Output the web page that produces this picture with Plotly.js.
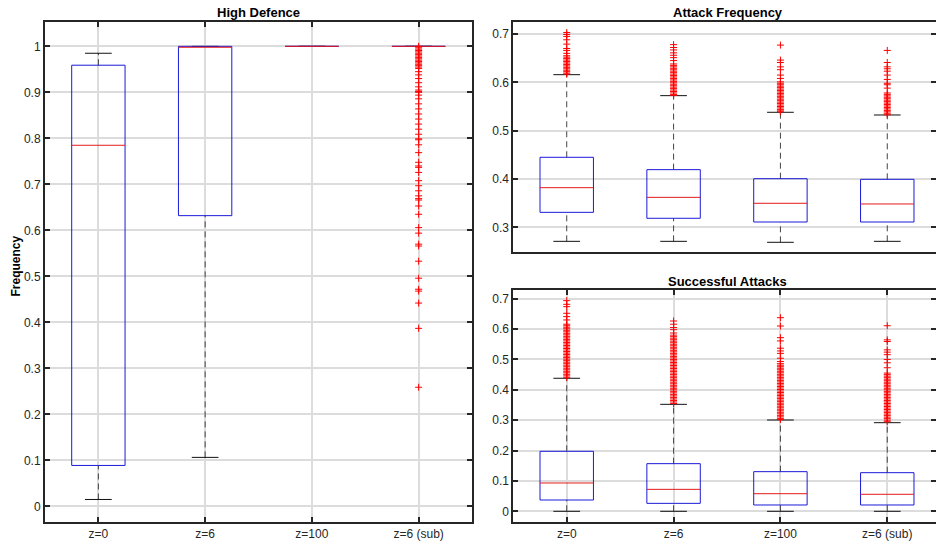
<!DOCTYPE html>
<html>
<head>
<meta charset="utf-8">
<script src="https://cdn.plot.ly/plotly-3.0.1.min.js"></script>
<style>html,body{margin:0;padding:0;background:#fff;}#chart{width:936px;height:544px;}</style>
</head>
<body>
<div id="chart"></div>
<script>
// ---------- DATA ----------
const categories = ['z=0', 'z=6', 'z=100', 'z=6 (sub)'];

// High Defence
const hdQ1     = [0.089, 0.632, 1.0, 1.0];
const hdMedian = [0.785, 0.998, 1.0, 1.0];
const hdQ3     = [0.959, 1.0, 1.0, 1.0];
const hdLow    = [0.015, 0.1065, 1.0, 1.0];
const hdHigh   = [0.985, 1.0, 1.0, 1.0];
const hdOut0 = [];
const hdOut1 = [];
const hdOut2 = [];
const hdOut3 = [1.0, 0.997, 0.994, 0.991, 0.988, 0.985, 0.982, 0.979, 0.976, 0.973, 0.970, 0.967, 0.964,
  0.961, 0.958, 0.955, 0.952, 0.945, 0.938, 0.930, 0.921, 0.912, 0.905, 0.902, 0.900, 0.894, 0.886,
  0.875, 0.864, 0.853, 0.842, 0.831, 0.820, 0.809, 0.799, 0.797, 0.786, 0.769, 0.748, 0.740, 0.737,
  0.726, 0.708, 0.697, 0.686, 0.675, 0.669, 0.666, 0.653, 0.635, 0.606, 0.594, 0.570, 0.566, 0.533,
  0.496, 0.472, 0.468, 0.442, 0.387, 0.259];

// Attack Frequency
const afQ1     = [0.331, 0.3187, 0.311, 0.311];
const afMedian = [0.382, 0.362, 0.3497, 0.3483];
const afQ3     = [0.4449, 0.4193, 0.4006, 0.3993];
const afLow    = [0.271, 0.271, 0.269, 0.271];
const afHigh   = [0.6158, 0.5724, 0.538, 0.5324];
const afOut0 = [0.703, 0.699, 0.695, 0.688, 0.679, 0.670, 0.666, 0.660, 0.655, 0.652, 0.649, 0.646,
  0.643, 0.640, 0.637, 0.634, 0.631, 0.628, 0.625, 0.622, 0.619, 0.617];
const afOut1 = [0.678, 0.672, 0.667, 0.661, 0.656, 0.651, 0.645, 0.638, 0.635, 0.632, 0.629, 0.626,
  0.623, 0.620, 0.617, 0.614, 0.611, 0.608, 0.605, 0.602, 0.599, 0.596, 0.593, 0.590, 0.587, 0.584,
  0.581, 0.578, 0.575, 0.573];
const afOut2 = [0.677, 0.646, 0.641, 0.632, 0.626, 0.615, 0.608, 0.601, 0.598, 0.595, 0.592, 0.589,
  0.586, 0.583, 0.580, 0.577, 0.574, 0.571, 0.568, 0.565, 0.562, 0.559, 0.556, 0.553, 0.550, 0.547,
  0.544, 0.541, 0.539];
const afOut3 = [0.666, 0.641, 0.632, 0.628, 0.623, 0.615, 0.606, 0.598, 0.595, 0.588, 0.578, 0.575,
  0.572, 0.569, 0.566, 0.563, 0.560, 0.557, 0.554, 0.551, 0.548, 0.545, 0.542, 0.539, 0.536, 0.533];

// Successful Attacks
const saQ1     = [0.0372, 0.0262, 0.0208, 0.0208];
const saMedian = [0.0932, 0.0723, 0.058, 0.056];
const saQ3     = [0.1976, 0.1569, 0.1305, 0.1272];
const saLow    = [0.0, 0.0, 0.0, 0.0];
const saHigh   = [0.438, 0.3522, 0.3006, 0.2918];
const saOut0 = [0.6935, 0.6815, 0.6738, 0.652, 0.641, 0.630, 0.616, 0.611, 0.606, 0.601, 0.596, 0.591,
  0.586, 0.581, 0.576, 0.571, 0.566, 0.561, 0.556, 0.551, 0.546, 0.541, 0.536, 0.531, 0.526, 0.521,
  0.516, 0.511, 0.506, 0.501, 0.496, 0.491, 0.486, 0.481, 0.476, 0.471, 0.466, 0.461, 0.456, 0.451,
  0.446, 0.441];
const saOut1 = [0.6266, 0.616, 0.605, 0.598, 0.587, 0.580, 0.575, 0.570, 0.565, 0.560, 0.555, 0.550,
  0.545, 0.540, 0.535, 0.530, 0.525, 0.520, 0.515, 0.510, 0.505, 0.500, 0.495, 0.490, 0.485, 0.480,
  0.475, 0.470, 0.465, 0.460, 0.455, 0.450, 0.445, 0.440, 0.435, 0.430, 0.425, 0.420, 0.415, 0.410,
  0.405, 0.400, 0.395, 0.390, 0.385, 0.380, 0.375, 0.370, 0.365, 0.360, 0.355];
const saOut2 = [0.6375, 0.610, 0.5717, 0.561, 0.537, 0.528, 0.520, 0.504, 0.493, 0.486, 0.481, 0.476,
  0.471, 0.466, 0.461, 0.456, 0.451, 0.446, 0.441, 0.436, 0.431, 0.426, 0.421, 0.416, 0.411, 0.406,
  0.401, 0.396, 0.391, 0.386, 0.381, 0.376, 0.371, 0.366, 0.361, 0.356, 0.351, 0.346, 0.341, 0.336,
  0.331, 0.326, 0.321, 0.316, 0.311, 0.306, 0.302];
const saOut3 = [0.611, 0.5645, 0.559, 0.5316, 0.524, 0.5157, 0.500, 0.489, 0.4727, 0.455, 0.450, 0.445,
  0.440, 0.435, 0.430, 0.425, 0.420, 0.415, 0.410, 0.405, 0.400, 0.395, 0.390, 0.385, 0.380, 0.375,
  0.370, 0.365, 0.360, 0.355, 0.350, 0.345, 0.340, 0.335, 0.330, 0.325, 0.320, 0.315, 0.310, 0.305,
  0.300, 0.295];

// ---------- BUILD ----------
const BOXW = 0.25;   // half box width (data units)
const CAPW = 0.125;  // half cap width
const TXT = '#262626';

function boxTraces(q1, med, q3, lo, hi, outs, xa, ya) {
  const wx = [], wy = [], cx = [], cy = [], bx = [], by = [], mx = [], my = [], ox = [], oy = [];
  for (let i = 0; i < q1.length; i++) {
    const x = i + 1;
    if (hi[i] > q3[i]) { wx.push(x, x, null); wy.push(q3[i], hi[i], null); }
    if (lo[i] < q1[i]) { wx.push(x, x, null); wy.push(lo[i], q1[i], null); }
    cx.push(x - CAPW, x + CAPW, null, x - CAPW, x + CAPW, null);
    cy.push(hi[i], hi[i], null, lo[i], lo[i], null);
    bx.push(x - BOXW, x + BOXW, x + BOXW, x - BOXW, x - BOXW, null);
    by.push(q1[i], q1[i], q3[i], q3[i], q1[i], null);
    mx.push(x - BOXW, x + BOXW, null);
    my.push(med[i], med[i], null);
    outs[i].forEach(v => { ox.push(x); oy.push(v); });
  }
  const base = { xaxis: xa, yaxis: ya, hoverinfo: 'skip', showlegend: false, type: 'scatter' };
  return [
    Object.assign({}, base, { x: wx, y: wy, mode: 'lines', line: { color: '#444', width: 1, dash: '6px,4px' } }),
    Object.assign({}, base, { x: cx, y: cy, mode: 'lines', line: { color: '#111', width: 1 } }),
    Object.assign({}, base, { x: bx, y: by, mode: 'lines', line: { color: '#1a1ad9', width: 1 } }),
    Object.assign({}, base, { x: mx, y: my, mode: 'lines', line: { color: '#e61a1a', width: 1 } }),
    Object.assign({}, base, { x: ox, y: oy, mode: 'markers',
      marker: { symbol: 'cross-thin', size: 5, color: '#ff0000', line: { color: '#ff0000', width: 1 } } })
  ];
}

const data = [].concat(
  boxTraces(hdQ1, hdMedian, hdQ3, hdLow, hdHigh, [hdOut0, hdOut1, hdOut2, hdOut3], 'x', 'y'),
  boxTraces(afQ1, afMedian, afQ3, afLow, afHigh, [afOut0, afOut1, afOut2, afOut3], 'x2', 'y2'),
  boxTraces(saQ1, saMedian, saQ3, saLow, saHigh, [saOut0, saOut1, saOut2, saOut3], 'x3', 'y3')
);

const tickFont = { family: 'Liberation Sans, Arial, sans-serif', size: 12, color: TXT };
function xAxis(domain, range, anchor, showLabels) {
  return {
    domain: domain, range: range, anchor: anchor,
    tickmode: 'array', tickvals: [1, 2, 3, 4], ticktext: categories,
    showticklabels: showLabels,
    ticks: showLabels ? 'inside' : '', ticklen: 5, tickwidth: 2, tickcolor: TXT,
    showgrid: showLabels, gridcolor: '#dcdcdc', gridwidth: 2,
    showline: true, linecolor: TXT, linewidth: 2, mirror: showLabels ? 'ticks' : true,
    zeroline: false, tickfont: tickFont, fixedrange: true
  };
}
function yAxis(domain, range, anchor, dtick) {
  return {
    domain: domain, range: range, anchor: anchor,
    tick0: 0, dtick: dtick,
    ticks: 'inside', ticklen: 5, tickwidth: 2, tickcolor: TXT,
    showgrid: true, gridcolor: '#dcdcdc', gridwidth: 2,
    showline: true, linecolor: TXT, linewidth: 2, mirror: 'ticks',
    zeroline: false, tickfont: tickFont, fixedrange: true
  };
}

const titleFont = { family: 'Liberation Sans, Arial, sans-serif', size: 13, color: '#000', weight: 'bold' };

const layout = {
  width: 936, height: 544,
  margin: { l: 0, r: 0, t: 0, b: 0 },
  paper_bgcolor: '#fff', plot_bgcolor: '#fff',
  showlegend: false,
  xaxis:  xAxis([45 / 936, 472 / 936], [0.5, 4.5], 'y', true),
  yaxis:  yAxis([0.0404, 0.9596], [-0.034, 1.053], 'x', 0.1),
  xaxis2: xAxis([513.3 / 936, 1], [0.5, 4.456], 'y2', false),
  yaxis2: yAxis([0.5362, 0.9601], [0.2483, 0.7254], 'x2', 0.1),
  xaxis3: xAxis([513.3 / 936, 1], [0.5, 4.456], 'y3', true),
  yaxis3: yAxis([0.0410, 0.4669], [-0.0342, 0.7286], 'x3', 0.1),
  annotations: [
    { text: 'High Defence', xref: 'paper', yref: 'paper', x: 258.5 / 936, y: 1 - 12 / 544,
      xanchor: 'center', yanchor: 'middle', showarrow: false, font: titleFont },
    { text: 'Attack Frequency', xref: 'paper', yref: 'paper', x: 727.5 / 936, y: 1 - 12 / 544,
      xanchor: 'center', yanchor: 'middle', showarrow: false, font: titleFont },
    { text: 'Successful Attacks', xref: 'paper', yref: 'paper', x: 727 / 936, y: 1 - 281 / 544,
      xanchor: 'center', yanchor: 'middle', showarrow: false, font: titleFont },
    { text: 'Frequency', xref: 'paper', yref: 'paper', x: 15 / 936, y: 1 - 266.5 / 544,
      xanchor: 'center', yanchor: 'middle', showarrow: false, textangle: -90,
      font: { family: 'Liberation Sans, Arial, sans-serif', size: 12, color: '#000', weight: 'bold' } }
  ]
};

Plotly.newPlot('chart', data, layout, { staticPlot: true, displayModeBar: false });
</script>
</body>
</html>
